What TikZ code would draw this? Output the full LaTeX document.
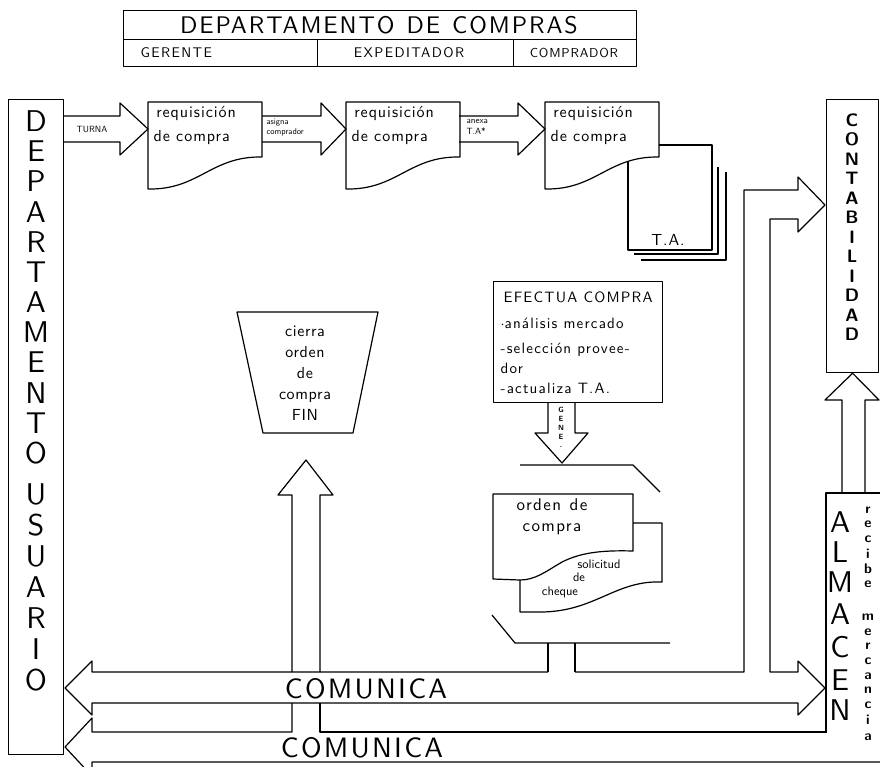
\documentclass[tikz,border=0pt]{standalone}
\usepackage{fontspec}
\setsansfont{lmsans10-regular.otf}[BoldFont=lmsans10-bold.otf]
\usetikzlibrary{positioning}

\tikzset{
  cell/.style={draw, anchor=north west, minimum height=27pt, inner sep=0pt},
  frame/.style={draw, anchor=north west, inner sep=0pt},
  bigletter/.style={font=\sffamily\fontsize{30}{30}\selectfont, inner sep=0pt},
  midletter/.style={font=\sffamily\bfseries\fontsize{18}{18}\selectfont, inner sep=0pt},
  lowletter/.style={font=\sffamily\bfseries\fontsize{14}{14}\selectfont, inner sep=0pt},
  roletext/.style={font=\sffamily\fontsize{14}{14}\selectfont\addfontfeatures{LetterSpace=10}, inner sep=0pt},
  hand/.style={font=\sffamily\fontsize{16}{24}\selectfont\addfontfeatures{LetterSpace=6}, inner sep=0pt},
  efline/.style={font=\sffamily\fontsize{15}{15}\selectfont\addfontfeatures{LetterSpace=8}, inner sep=0pt, anchor=west},
  tiny/.style={font=\sffamily\fontsize{9}{11}\selectfont, inner sep=0pt, align=left},
  comunica/.style={font=\sffamily\fontsize{28}{28}\selectfont\addfontfeatures{LetterSpace=8}, inner sep=0pt},
}

\begin{document}
\begin{tikzpicture}[x=1pt, y=-1pt, line width=1.2pt, line join=round]
  \useasboundingbox (0,0) rectangle (880,766);

  % Departamento de compras
  \node[cell, minimum width=513pt, minimum height=29pt] (compras) at (123,10) {};
  \node[font=\sffamily\fontsize{24}{24}\selectfont\addfontfeatures{LetterSpace=8}, inner sep=0pt] (tcompras) at (379,25) {DEPARTAMENTO\enspace DE\enspace COMPRAS};
  \node[cell, minimum width=194pt] (gerente) at (123,39) {};
  \node[cell, minimum width=196pt] (expeditador) at (317,39) {};
  \node[cell, minimum width=123pt] (comprador) at (513,39) {};
  \node[roletext, right=17pt of gerente.west] (tgerente) {GERENTE};
  \node[roletext] (texpeditador) at (409,53) {EXPEDITADOR};
  \node[roletext, font=\sffamily\fontsize{13}{13}\selectfont\addfontfeatures{LetterSpace=6}] (tcomprador) at (574,53) {COMPRADOR};

  % Departamento usuario
  \node[frame, minimum width=55pt, minimum height=655pt] (usuario) at (8,99) {};
  \foreach \l [count=\i] in {D,E,P,A,R,T,A,M,E,N,T,O}
    \node[bigletter] (dep\i) at (36,{121+30.2*(\i-1)}) {\l};
  \foreach \l [count=\i] in {U,S,U,A,R,I,O}
    \node[bigletter] (usu\i) at (36,{494+31*(\i-1)}) {\l};

  % Contabilidad
  \node[frame, minimum width=52pt, minimum height=273pt] (contab) at (826,99) {};
  \foreach \l [count=\i] in {C,O,N,T,A,B,I,L,I,D,A,D}
    \node[midletter] (con\i) at (852,{120+19.5*(\i-1)}) {\l};

  % Almacen
  \path node[frame, draw=none, minimum width=54pt, minimum height=239pt] (almacen) at (826,493) {};
  \draw (almacen.north east) -- (almacen.north west) -- (almacen.south west);
  \foreach \l/\y [count=\i] in {A/522,L/552,M/582,A/614,C/647,E/680,N/710}
    \node[bigletter] (alm\i) at (840,\y) {\l};
  \foreach \l/\y [count=\i] in {r/510,e/524,c/539,i/554,b/569,e/584,m/617,e/632,r/646,c/661,a/676,n/690,c/705,i/720,a/737}
    \node[lowletter] (rec\i) at (868,\y) {\l};

  % Requisiciones de compra
  \foreach \x/\n in {148/reqa,346/reqb,545/reqc} {
    \draw (\x,102) -- ({\x+114},102) -- ({\x+114},157)
      .. controls ({\x+63},156) and ({\x+51},190) .. (\x,189) -- cycle;
    \node[hand, anchor=north west, align=left] (\n) at ({\x+5},106) {\,requisición\\de compra};
  }

  % Hojas T.A.
  \draw (659,145) -- (712,145) -- (712,250) -- (628,250) -- (628,162);
  \draw (718,167) -- (718,254) -- (634,254);
  \draw (726,172) -- (726,260) -- (641,260);
  \node[hand] (tahojas) at (668,240) {T.A.};

  % Flechas de la fila superior
  \draw (63,116) -- (120,116) -- (120,103) -- (148,129) -- (120,155) -- (120,142) -- (63,142);
  \node[tiny] (turna) at (92,129) {TURNA};
  \draw (262,116) -- (321,116) -- (321,103) -- (346,129) -- (321,155) -- (321,142) -- (262,142);
  \node[tiny, anchor=west, font=\sffamily\fontsize{8.5}{10}\selectfont] (asigna) at (266,128) {asigna\\comprador};
  \draw (459,116) -- (518,116) -- (518,103) -- (545,129) -- (518,155) -- (518,142) -- (459,142);
  \node[tiny, anchor=west] (anexa) at (466,127) {anexa\\T.A*};

  % Efectua compra
  \node[frame, minimum width=169pt, minimum height=121pt] (efectua) at (493,281) {};
  \node[efline] (ef1) at (503,297) {EFECTUA COMPRA};
  \node[efline] (ef2) at (500,323) {$\cdot$análisis mercado};
  \node[efline] (ef3) at (500,350) {-selección provee-};
  \node[efline] (ef4) at (500,368) {dor};
  \node[efline] (ef5) at (500,388) {-actualiza T.A.};
  \draw (548,402) -- (548,433) -- (535,433) -- (562,463) -- (588,433) -- (575,433) -- (575,402);
  \foreach \l/\y [count=\i] in {G/410,E/419,N/428,E/437,./447}
    \node[font=\sffamily\bfseries\fontsize{7.5}{7.5}\selectfont, inner sep=0pt] (gene\i) at (561,\y) {\l};

  % Orden de compra
  \draw (520,465) -- (633,465) -- (660,492);
  \draw (492,615) -- (515,643) -- (670,643);
  \draw (633,523) -- (662,523) -- (662,582) .. controls (615,580) and (595,612) .. (540,612) -- (520,612) -- (520,580);
  \draw (493,579) -- (493,494) -- (633,494) -- (633,551) .. controls (600,550) and (580,553) .. (562,562)
    .. controls (545,572) and (535,580) .. (520,580) -- cycle;
  \node[hand, align=center, font=\sffamily\fontsize{17}{21}\selectfont\addfontfeatures{LetterSpace=8}] (torden) at (552,517) {orden\enspace de\\compra};
  \node[font=\sffamily\fontsize{12.5}{12.5}\selectfont, inner sep=0pt] (sol1) at (599,564) {solicitud};
  \node[font=\sffamily\fontsize{12.5}{12.5}\selectfont, inner sep=0pt] (sol2) at (579,577) {de};
  \node[font=\sffamily\fontsize{12.5}{12.5}\selectfont, inner sep=0pt] (sol3) at (560,592) {cheque};
  \draw (548,643) -- (548,672);
  \draw (575,643) -- (575,672);

  % Cierra orden de compra
  \draw (237,312) -- (378,312) -- (353,433) -- (263,433) -- cycle;
  \node[align=center, inner sep=0pt, font=\sffamily\fontsize{16}{21}\selectfont\addfontfeatures{LetterSpace=4}] (cierra) at (305,373) {cierra\\orden\\de\\compra\\FIN};
  \draw (292,672) -- (292,495) -- (278,495) -- (306,460) -- (333,495) -- (320,495) -- (320,672);

  % Comunica (superior) y rama a contabilidad
  \draw (548,672) -- (92,672) -- (92,661) -- (65,688) -- (92,715) -- (92,703) -- (798,703)
    -- (798,715) -- (825,688) -- (798,661) -- (798,672) -- (770,672) -- (770,219)
    -- (798,219) -- (798,232) -- (825,205) -- (798,177) -- (798,190) -- (744,190)
    -- (744,672) -- (575,672);
  \node[comunica] (com1) at (366,689) {COMUNICA};

  % Comunica (inferior)
  \draw (826,732) -- (320,732) -- (320,703);
  \draw (292,703) -- (292,732) -- (92,732) -- (92,718) -- (65,747) -- (92,776) -- (92,762) -- (880,762);
  \node[comunica] (com2) at (362,748) {COMUNICA};

  % Almacen a contabilidad
  \draw (842,493) -- (842,400) -- (825,400) -- (contab.south) -- (879,400) -- (865,400) -- (865,493);
\end{tikzpicture}
\end{document}
